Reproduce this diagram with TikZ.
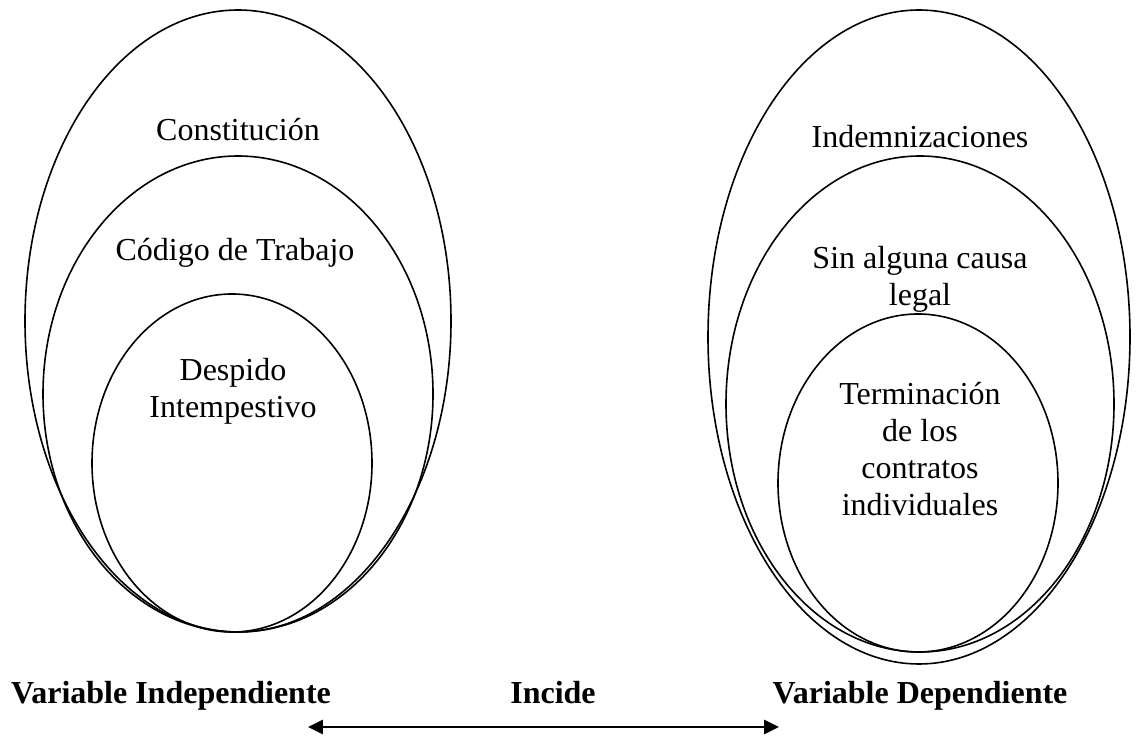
\documentclass[tikz,border=0pt]{standalone}
\usepackage{fontspec}
\setmainfont{Liberation Serif}
\usetikzlibrary{shapes.geometric, arrows.meta}

\begin{document}
\begin{tikzpicture}
    [
        x=0.375pt, y=-0.375pt,
        ring/.style={
            draw, ellipse, inner sep=0pt, line width=0.6pt
        },
        txt/.style={
            align=center, inner sep=0pt,
            font=\fontsize{12}{13.9}\selectfont
        },
        caption/.style={
            txt, anchor=base, font=\fontsize{12}{13.9}\selectfont\bfseries
        },
        tip/.style={
            {Triangle[length=5.6pt, width=5.2pt]}-{Triangle[length=5.6pt, width=5.2pt]},
            line width=1.1pt
        }
    ]

\useasboundingbox (0,0) rectangle (1136,740);

% Left ellipses
\node (const-ring) [
        ring, minimum width=159.75pt, minimum height=233.25pt
    ] at (238,321) {};

\node (codigo-ring) [
        ring, minimum width=146.25pt, minimum height=178.5pt
    ] at (238,394) {};

\node (despido-ring) [
        ring, minimum width=105pt, minimum height=126.75pt
    ] at (232,463) {};

% Right ellipses
\node (indem-ring) [
        ring, minimum width=158.25pt, minimum height=245.25pt
    ] at (919,337) {};

\node (causa-ring) [
        ring, minimum width=145.5pt, minimum height=186pt
    ] at (920,404) {};

\node (termin-ring) [
        ring, minimum width=105pt, minimum height=126.75pt
    ] at (918,483) {};

% Texts
\node (const) [txt] at (238,130) {Constitución};
\node (codigo) [txt] at (235,253) {Código de Trabajo};
\node (despido) [txt] at (233,391) {Despido\\Intempestivo};

\node (indem) [txt] at (920,137) {Indemnizaciones};
\node (causa) [txt] at (920,279) {Sin alguna causa\\legal};
\node (termin) [txt] at (920,449) {Terminación\\de los\\contratos\\individuales};

% Bottom
\node (indep) [caption] at (171,704) {Variable Independiente};
\node (incide) [caption] at (553,704) {Incide};
\node (dep) [caption] at (920,704) {Variable Dependiente};

\coordinate (arrow-left) at (308,727);
\coordinate (arrow-right) at (779,727);
\draw [tip] (arrow-left) -- (arrow-right);

\end{tikzpicture}
\end{document}
